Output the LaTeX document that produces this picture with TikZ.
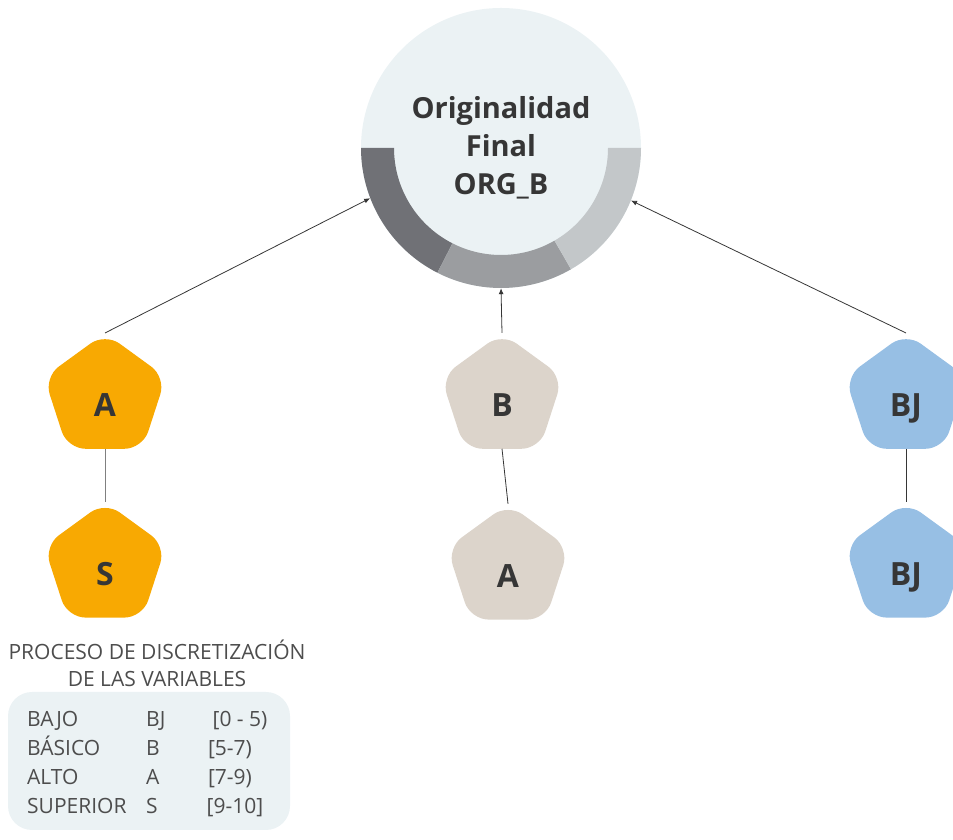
\documentclass[tikz,border=0pt]{standalone}
\usepackage{fontspec}
\setmainfont{Open Sans}
\usepackage{tikz}
\usetikzlibrary{arrows.meta,positioning,shapes.geometric}
\definecolor{naranja}{HTML}{F8A902}
\definecolor{arena}{HTML}{DCD4CB}
\definecolor{celeste}{HTML}{97BFE4}
\definecolor{fondo}{HTML}{EBF2F4}
\definecolor{texto}{HTML}{363636}
\definecolor{gristexto}{HTML}{4D4D4D}
\definecolor{anilloA}{HTML}{707176}
\definecolor{anilloB}{HTML}{9B9DA0}
\definecolor{anilloC}{HTML}{C3C7C9}
\tikzset{
    pentagono/.style={
        regular polygon,
        regular polygon sides=5,
        minimum size=128pt,
        inner sep=0pt,
        outer sep=0pt,
        rounded corners=18pt,
        text=texto,
        font=\bfseries\fontsize{32}{32}\selectfont,
        text height=39pt,
        text depth=0pt
    },
    conector/.style={draw=texto, line width=0.8pt},
    flecha/.style={conector, -{Latex[length=6pt,width=5pt]}},
    leyenda/.style={font=\fontsize{21}{27}\selectfont, text=gristexto, inner sep=0pt},
    caja/.style={rectangle, rounded corners=24pt, fill=fondo, inner sep=0pt}
}

\begin{document}
\begin{tikzpicture}[x=1pt, y=1pt]
        \useasboundingbox (0,0) rectangle (953,840);

        % nodo central con su anillo
        \node[circle, fill=fondo, minimum size=280pt, inner sep=0pt,
              align=center, text=texto,
              font=\bfseries\fontsize{29}{38}\selectfont] (org) at (501,692)
            {Originalidad\\Final\\ORG\_B};
        \fill[anilloA] (org.center) ++(180:140) arc[start angle=180, end angle=243, radius=140]
            -- ([shift={(243:107)}]org.center) arc[start angle=243, end angle=180, radius=107] -- cycle;
        \fill[anilloB] (org.center) ++(243:140) arc[start angle=243, end angle=300, radius=140]
            -- ([shift={(300:107)}]org.center) arc[start angle=300, end angle=243, radius=107] -- cycle;
        \fill[anilloC] (org.center) ++(300:140) arc[start angle=300, end angle=360, radius=140]
            -- ([shift={(360:107)}]org.center) arc[start angle=360, end angle=300, radius=107] -- cycle;

        \node[pentagono, fill=naranja] (pa) at (105,443) {A};
        \node[pentagono, fill=naranja, below=53pt of pa] (ps) {S};
        \node[pentagono, fill=arena] (pb) at (502,443) {B};
        \node[pentagono, fill=arena, below=55pt of pb, xshift=6pt] (pba) {A};
        \node[pentagono, fill=celeste] (pbj) at (906,443) {BJ};
        \node[pentagono, fill=celeste, below=53pt of pbj] (pbjb) {BJ};

        \draw[flecha] (pa.north) -- (org.201);
        \draw[flecha] (pb.north) -- (org.270);
        \draw[flecha] (pbj.north) -- (org.338);
        \draw[conector, draw=gray] (pa.south) -- (ps.north);
        \draw[conector] (pb.south) -- (pba.north);
        \draw[conector] (pbj.south) -- (pbjb.north);

        % leyenda
        \node[leyenda, align=center] (titulo) at (157,177)
            {PROCESO DE DISCRETIZACIÓN\\DE LAS VARIABLES};
        \node[caja, minimum width=282pt, minimum height=138pt] (caja) at (149,79) {};

        \node[leyenda, anchor=base west] (bajo) at (27,113) {BAJO};
        \node[leyenda, anchor=base west] (cbj) at (146,113) {BJ};
        \node[leyenda, anchor=base] (rbj) at (240,113) {[0 - 5)};
        \node[leyenda, anchor=base west] (basico) at (27,84) {BÁSICO};
        \node[leyenda, anchor=base west] (cb) at (146,84) {B};
        \node[leyenda, anchor=base] (rb) at (230,84) {[5-7)};
        \node[leyenda, anchor=base west] (alto) at (27,55) {ALTO};
        \node[leyenda, anchor=base west] (ca) at (146,55) {A};
        \node[leyenda, anchor=base] (ra) at (230,55) {[7-9)};
        \node[leyenda, anchor=base west] (superior) at (27,26) {SUPERIOR};
        \node[leyenda, anchor=base west] (cs) at (146,26) {S};
        \node[leyenda, anchor=base] (rs) at (235,26) {[9-10]};
    \end{tikzpicture}
\end{document}
